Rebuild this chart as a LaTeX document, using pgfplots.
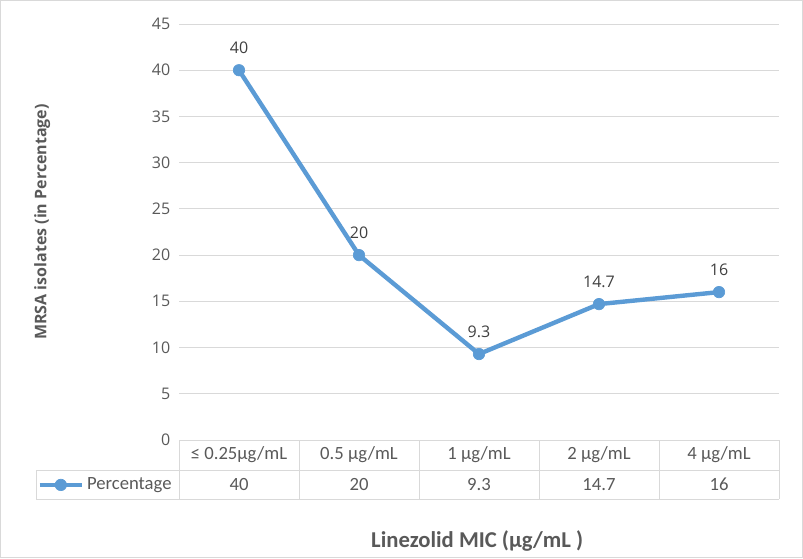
\documentclass[border=0pt]{standalone}
\usepackage{pgfplots}
\pgfplotsset{compat=1.18}
\usepackage{fontspec}
\setmainfont{Carlito}
\newfontfamily\osans{Open Sans}

\definecolor{lineblue}{HTML}{5B9BD5}
\definecolor{txtgray}{HTML}{595959}
\definecolor{lblgray}{HTML}{404040}
\definecolor{gridgray}{HTML}{D9D9D9}

\begin{document}
\begin{tikzpicture}
% frame and fixed page size, in pixels of the reference
\begin{scope}[x=0.75pt,y=0.75pt]
  \useasboundingbox (0,0) rectangle (803,558);
  \draw[gridgray, line width=0.75pt] (0.5,0.5) rectangle (802.5,557.5);
\end{scope}

\begin{axis}[
    at={(134.25pt,88.5pt)}, anchor=south west,
    scale only axis,
    width=450pt, height=312pt,
    xmin=0.5, xmax=5.5,
    ymin=0, ymax=45,
    ytick={0,5,...,45},
    xtick={1,2,3,4,5},
    xticklabels={≤ 0.25µg/mL, 0.5 µg/mL, 1 µg/mL, 2 µg/mL, 4 µg/mL},
    xticklabel style={anchor=center, yshift=-11.25pt, font=\fontsize{14}{16}\selectfont, text=txtgray},
    yticklabel style={font=\osans\fontsize{12}{14}\selectfont, text=txtgray, xshift=-3pt},
    /pgf/number format/assume math mode=true,
    axis line style={draw=none},
    major tick length=0pt,
    ymajorgrids,
    grid style={gridgray, line width=0.75pt},
    ylabel={MRSA isolates (in Percentage)},
    ylabel style={at={(rel axis cs:-0.228,0.524)}, anchor=center, rotate=0,
                  font=\osans\bfseries\fontsize{12}{14}\selectfont, text=txtgray},
    xlabel={Linezolid MIC (µg/mL )},
    xlabel style={at={(rel axis cs:0.497,-0.243)}, anchor=center,
                  font=\bfseries\fontsize{17}{20}\selectfont, text=txtgray},
    nodes near coords,
    nodes near coords style={font=\osans\fontsize{12}{14}\selectfont, text=lblgray, anchor=south, yshift=9pt},
    legend style={at={(rel axis cs:-0.008,-0.108)}, anchor=east, draw=none, fill=none,
                  font=\fontsize{14}{16}\selectfont, text=txtgray,
                  inner sep=0pt, outer sep=0pt},
    legend cell align=left,
    legend image code/.code={
        \draw[mark repeat=2,mark phase=2,#1] plot coordinates {(0pt,0pt)(16pt,0pt)(32pt,0pt)};
    },
    clip=false,
]
\addplot[color=lineblue, line width=3.3pt, mark=*, mark size=4.3pt,
         mark options={solid, fill=lineblue, draw=lineblue, line width=0.5pt}]
    coordinates {(1,40) (2,20) (3,9.3) (4,14.7) (5,16)};
\addlegendentry{Percentage}
\end{axis}

% data table below the plot area
\begin{scope}[x=0.75pt,y=0.75pt, every node/.style={font=\fontsize{14}{16}\selectfont, text=txtgray}]
  \def\yA{118}   % axis bottom
  \def\yB{88}    % row separator
  \def\yC{59}    % table bottom
  \draw[gridgray, line width=0.75pt]
      (179,\yA) -- (779,\yA)
      (36,\yB) -- (779,\yB)
      (36,\yC) -- (779,\yC)
      (36,\yB) -- (36,\yC);
  \foreach \xx in {179,299,419,539,659,779}
     \draw[gridgray, line width=0.75pt] (\xx,\yA) -- (\xx,\yC);
  \node at (239,73.5) {40};
  \node at (359,73.5) {20};
  \node at (479,73.5) {9.3};
  \node at (599,73.5) {14.7};
  \node at (719,73.5) {16};
\end{scope}
\end{tikzpicture}
\end{document}
